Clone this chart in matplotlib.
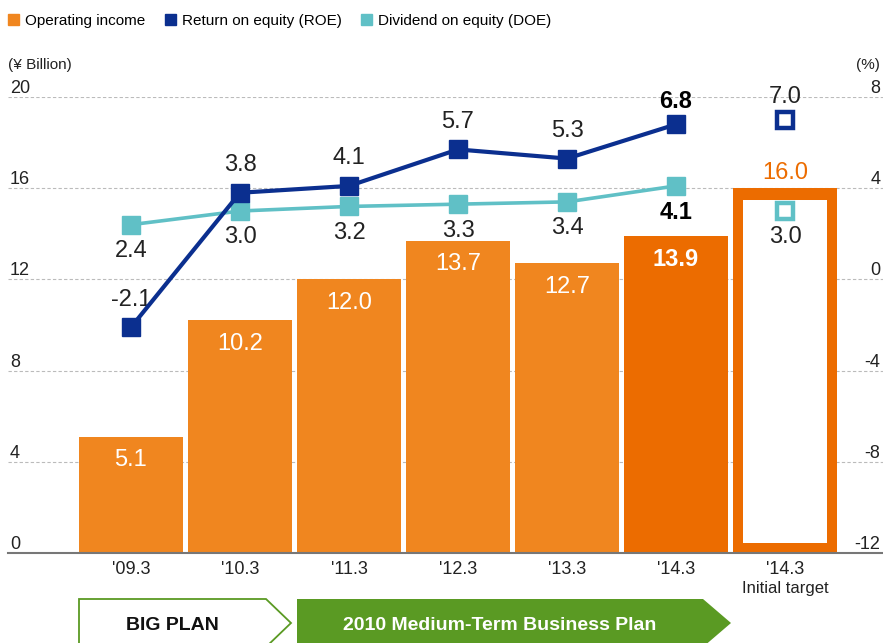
import matplotlib.pyplot as plt
from matplotlib.patches import Patch, Polygon

plt.rcParams['font.family'] = ['Liberation Sans', 'DejaVu Sans']

# ---------------------
# Data
# ---------------------
periods = ["'09.3", "'10.3", "'11.3", "'12.3", "'13.3", "'14.3", "'14.3"]
op_income = [5.1, 10.2, 12.0, 13.7, 12.7, 13.9]   # ¥ billion
op_target = 16.0
roe = [-2.1, 3.8, 4.1, 5.7, 5.3, 6.8]             # %
roe_target = 7.0
doe = [2.4, 3.0, 3.2, 3.3, 3.4, 4.1]              # %
doe_target = 3.0

left_ticks = [0, 4, 8, 12, 16, 20]
right_ticks = [-12, -8, -4, 0, 4, 8]

ORANGE = '#F0861F'
DARK_ORANGE = '#EC6C00'
NAVY = '#0B2F8F'
TEAL = '#60C0C6'
GREEN = '#5A9A23'
TXT = '#222222'

fig = plt.figure(figsize=(8.83, 6.43), dpi=100)
ax = fig.add_axes([8 / 883, 90 / 643, 875 / 883, 456 / 643])
ax2 = ax.twinx()

n = len(op_income)
xs = list(range(n))
xt = n  # position of the initial target column

ax.set_xlim(-1.128, 6.899)
ax.set_ylim(0, 20)
ax2.set_ylim(-12, 8)

# dashed grid
for v in left_ticks[1:]:
    ax.axhline(v, color='#bbbbbb', lw=0.8, ls=(0, (3, 2)), zorder=0)

# ---------------------
# Bars
# ---------------------
bw = 0.954
colors = [ORANGE] * (n - 1) + [DARK_ORANGE]
ax.bar(xs, op_income, width=bw, color=colors, zorder=2)
for i, v in enumerate(op_income):
    ax.annotate(f"{v:.1f}", (i, v), xytext=(0, -17), textcoords='offset points',
                ha='center', va='center', color='white', fontsize=17,
                fontweight='bold' if i == n - 1 else 'normal', zorder=5)

# target bar: thick orange outline, white inside
ax.bar(xt, op_target, width=0.963, color=DARK_ORANGE, zorder=2)
ax.bar(xt, op_target - 0.45 - 0.52, bottom=0.45, width=0.963 - 0.2, color='white', zorder=3)
ax.annotate(f"{op_target:.1f}", (xt, op_target), xytext=(0, 11), textcoords='offset points',
            ha='center', va='center', color=DARK_ORANGE, fontsize=17)

# ---------------------
# Lines (right axis)
# ---------------------
ax2.plot(xs, roe, color=NAVY, lw=3, marker='s', ms=13, zorder=4)
ax2.plot(xs, doe, color=TEAL, lw=2.6, marker='s', ms=13, zorder=3)
ax2.plot([xt], [roe_target], ls='none', marker='s', ms=11, mfc='white', mec=NAVY, mew=3.2, zorder=4)
ax2.plot([xt], [doe_target], ls='none', marker='s', ms=11, mfc='white', mec=TEAL, mew=3.2, zorder=4)

for i, v in enumerate(roe):
    last = i == n - 1
    ax2.annotate(f"{v:.1f}", (i, v), xytext=(0, 16.5 if last else 20), textcoords='offset points',
                 ha='center', va='center', color='black' if last else TXT, fontsize=17,
                 fontweight='bold' if last else 'normal')
for i, v in enumerate(doe):
    last = i == n - 1
    ax2.annotate(f"{v:.1f}", (i, v), xytext=(0, -19), textcoords='offset points',
                 ha='center', va='center', color='black' if last else TXT, fontsize=17,
                 fontweight='bold' if last else 'normal')
ax2.annotate(f"{roe_target:.1f}", (xt, roe_target), xytext=(0, 16.5), textcoords='offset points',
             ha='center', va='center', color=TXT, fontsize=17)
ax2.annotate(f"{doe_target:.1f}", (xt, doe_target), xytext=(0, -19), textcoords='offset points',
             ha='center', va='center', color=TXT, fontsize=17)

# ---------------------
# Axes styling
# ---------------------
for a in (ax, ax2):
    for s in a.spines.values():
        s.set_visible(False)
ax.spines['bottom'].set_visible(True)
ax.spines['bottom'].set_color('#777777')
ax.spines['bottom'].set_linewidth(1.5)

ax.set_yticks(left_ticks)
ax.set_yticklabels([str(t) for t in left_ticks])
ax.tick_params(axis='y', length=0, pad=-1.5, labelsize=13, labelcolor=TXT)
plt.setp(ax.get_yticklabels(), ha='left', va='bottom')

ax2.set_yticks(right_ticks)
ax2.set_yticklabels([str(t) for t in right_ticks])
ax2.tick_params(axis='y', length=0, pad=-2, labelsize=13, labelcolor=TXT)
plt.setp(ax2.get_yticklabels(), ha='right', va='bottom')

ax.set_xticks(xs + [xt])
ax.set_xticklabels(periods)
ax.tick_params(axis='x', length=0, pad=6, labelsize=13, labelcolor=TXT)


def px(x, y):
    return (x / 883, 1 - y / 643)


fig.text(*px(785, 589), "Initial target", ha='center', va='center', fontsize=12, color=TXT)

# units
fig.text(*px(8, 65), "(¥ Billion)", ha='left', va='center', fontsize=11, color=TXT)
fig.text(*px(880, 65), "(%)", ha='right', va='center', fontsize=11, color=TXT)

# legend
handles = [Patch(color=ORANGE, label='Operating income'),
           Patch(color=NAVY, label='Return on equity (ROE)'),
           Patch(color=TEAL, label='Dividend on equity (DOE)')]
fig.legend(handles=handles, loc='center left', bbox_to_anchor=px(8, 21), ncol=3,
           frameon=False, fontsize=11, handlelength=0.7, handleheight=0.7,
           handletextpad=0.4, columnspacing=1.3, borderaxespad=0, borderpad=0)

# ---------------------
# Plan arrows along the bottom
# ---------------------
big = Polygon([px(79, 599), px(266, 599), px(291, 623), px(266, 647), px(79, 647)],
              closed=True, transform=fig.transFigure, facecolor='white',
              edgecolor=GREEN, lw=1.3)
mid = Polygon([px(297, 599), px(703, 599), px(731, 623), px(703, 647), px(297, 647)],
              closed=True, transform=fig.transFigure, facecolor=GREEN, edgecolor='none')
fig.patches.extend([big, mid])
fig.text(*px(172, 626), "BIG PLAN", ha='center', va='center', fontsize=14,
         fontweight='bold', color='#111111')
fig.text(*px(500, 626), "2010 Medium-Term Business Plan", ha='center', va='center',
         fontsize=14, fontweight='bold', color='white')

fig.savefig('out.png', dpi=100)
